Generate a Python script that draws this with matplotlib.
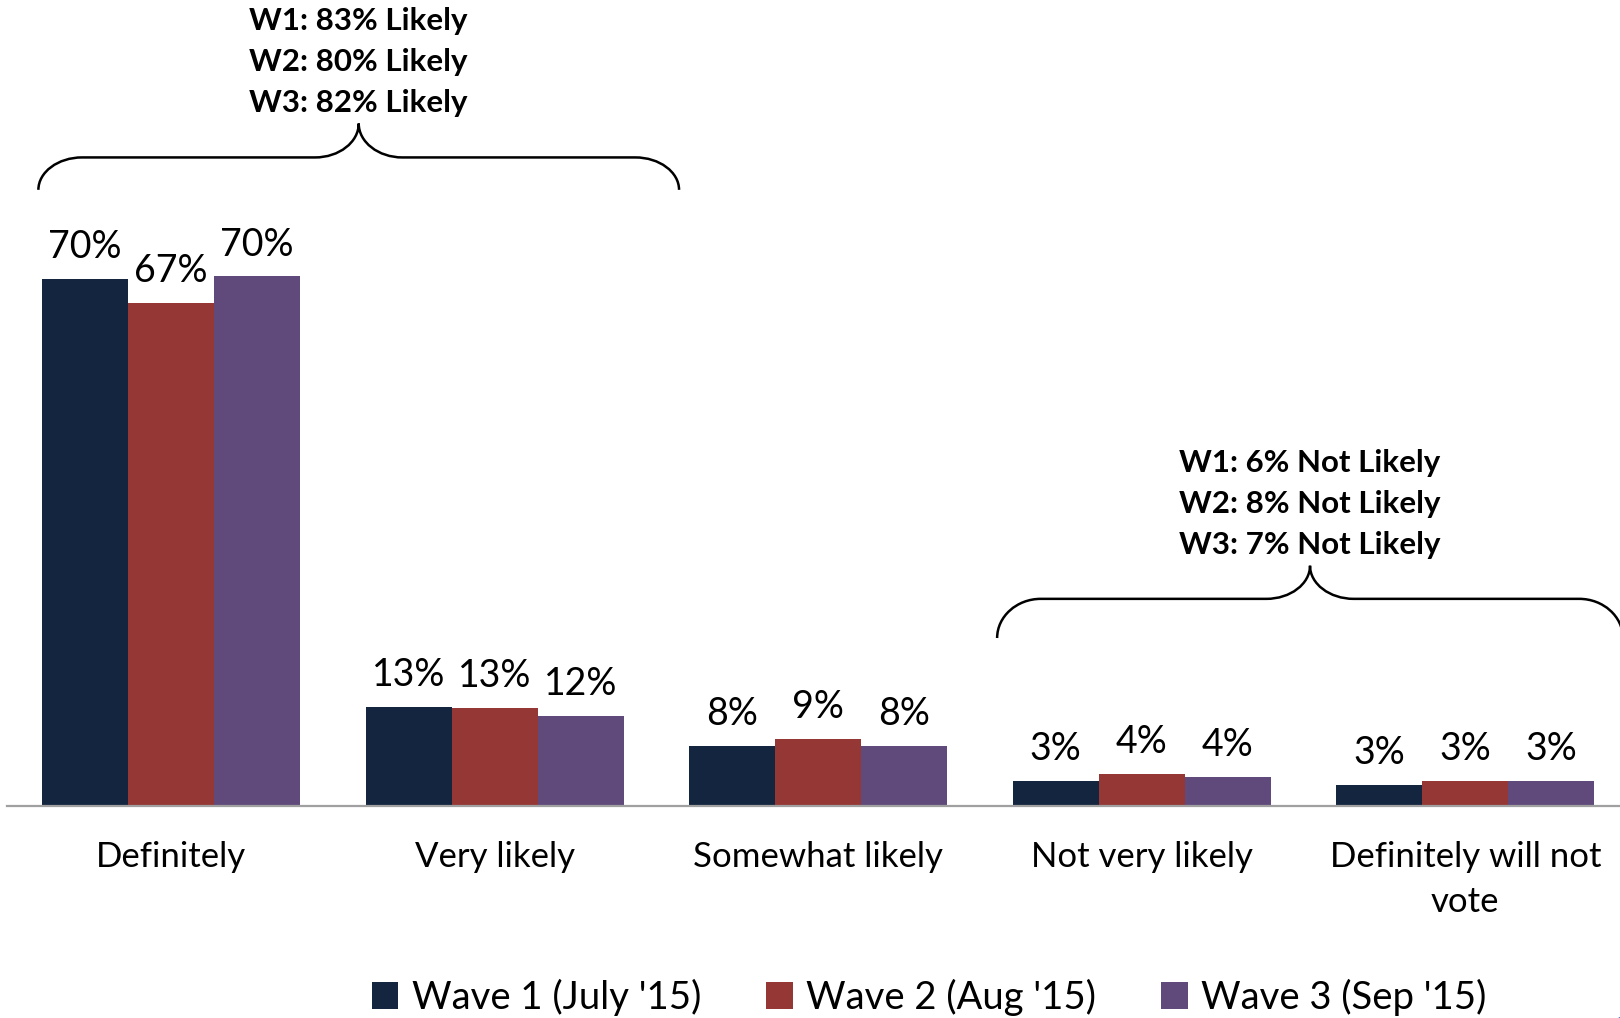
import matplotlib
matplotlib.use("Agg")
import matplotlib.pyplot as plt
from matplotlib.path import Path
from matplotlib.patches import PathPatch, Circle
import numpy as np

plt.rcParams['font.family'] = ['Lato', 'DejaVu Sans']

categories = ["Definitely", "Very likely", "Somewhat likely", "Not very likely",
              "Definitely will not\nvote"]
wave1 = [70.0, 13.1, 8.0, 3.3, 2.8]
wave2 = [66.8, 13.0, 8.9, 4.3, 3.3]
wave3 = [70.3, 12.0, 8.0, 3.9, 3.3]
series_names = ["Wave 1 (July '15)", "Wave 2 (Aug '15)", "Wave 3 (Sep '15)"]
colors = ["#13253F", "#953735", "#604A7B"]

likely_lines = ["W1: 83% Likely", "W2: 80% Likely", "W3: 82% Likely"]
notlikely_lines = ["W1: 6% Not Likely", "W2: 8% Not Likely", "W3: 7% Not Likely"]

fig = plt.figure(figsize=(16.2, 10.18), dpi=100)
ax = fig.add_axes([7 / 1620, 212 / 1018, 1 - 7 / 1620, 806 / 1018])

x = np.arange(len(categories))
w = 0.266
for i, (vals, name, c) in enumerate(zip([wave1, wave2, wave3], series_names, colors)):
    bars = ax.bar(x + (i - 1) * w, vals, w, color=c, label=name)
    for b, v in zip(bars, vals):
        ax.annotate(f"{v:.0f}%", (b.get_x() + b.get_width() / 2, v),
                    xytext=(0, 15), textcoords="offset points",
                    ha="center", va="baseline", fontsize=27)

ax.set_xlim(-0.507, 4.478)
ax.set_ylim(0, 107)
for s in ["top", "left", "right"]:
    ax.spines[s].set_visible(False)
ax.spines["bottom"].set_color("#A0A0A0")
ax.spines["bottom"].set_linewidth(1.6)
ax.set_yticks([])
ax.set_xticks(x)
ax.set_xticklabels(categories, fontsize=25, linespacing=1.5)
ax.tick_params(axis="x", length=0, pad=25)


def brace(x0, x1, xt, yb, yh, yt, r=0.135):
    k = 0.55
    verts = [
        (x0, yb),
        (x0, yb + k * (yh - yb)), (x0 + (1 - k) * r, yh), (x0 + r, yh),
        (xt - r, yh),
        (xt - r + k * r, yh), (xt, yt - k * (yt - yh)), (xt, yt),
        (xt, yt - k * (yt - yh)), (xt + r - k * r, yh), (xt + r, yh),
        (x1 - r, yh),
        (x1 - (1 - k) * r, yh), (x1, yb + k * (yh - yb)), (x1, yb),
    ]
    codes = [Path.MOVETO,
             Path.CURVE4, Path.CURVE4, Path.CURVE4,
             Path.LINETO,
             Path.CURVE4, Path.CURVE4, Path.CURVE4,
             Path.CURVE4, Path.CURVE4, Path.CURVE4,
             Path.LINETO,
             Path.CURVE4, Path.CURVE4, Path.CURVE4]
    ax.add_patch(PathPatch(Path(verts, codes), fill=False, lw=1.8,
                           edgecolor="black", clip_on=False))


def brace_text(lines, xt, yt):
    offs = [74, 44.5, 15]
    for line, off in zip(lines, offs):
        ax.annotate(line, (xt, yt), xytext=(0, off), textcoords="offset points",
                    ha="center", va="center", fontsize=22.5, fontweight="bold")


brace(-0.41, 1.57, 0.58, 81.8, 86.1, 90.6)
brace_text(likely_lines, 0.58, 90.6)
brace(2.553, 4.487, 3.52, 22.3, 27.5, 31.9)
brace_text(notlikely_lines, 3.52, 31.9)

fig.legend(loc="center", bbox_to_anchor=(929 / 1620, 1 - 997 / 1018), ncol=3,
           frameon=False, fontsize=27.5, handlelength=0.7, handleheight=0.7,
           handletextpad=0.35, columnspacing=1.7, borderpad=0)

fig.add_artist(Circle((1.005, -0.006), 0.008, transform=fig.transFigure,
                      color="#1F5FA8", clip_on=False))

fig.savefig("out.png", dpi=100)
